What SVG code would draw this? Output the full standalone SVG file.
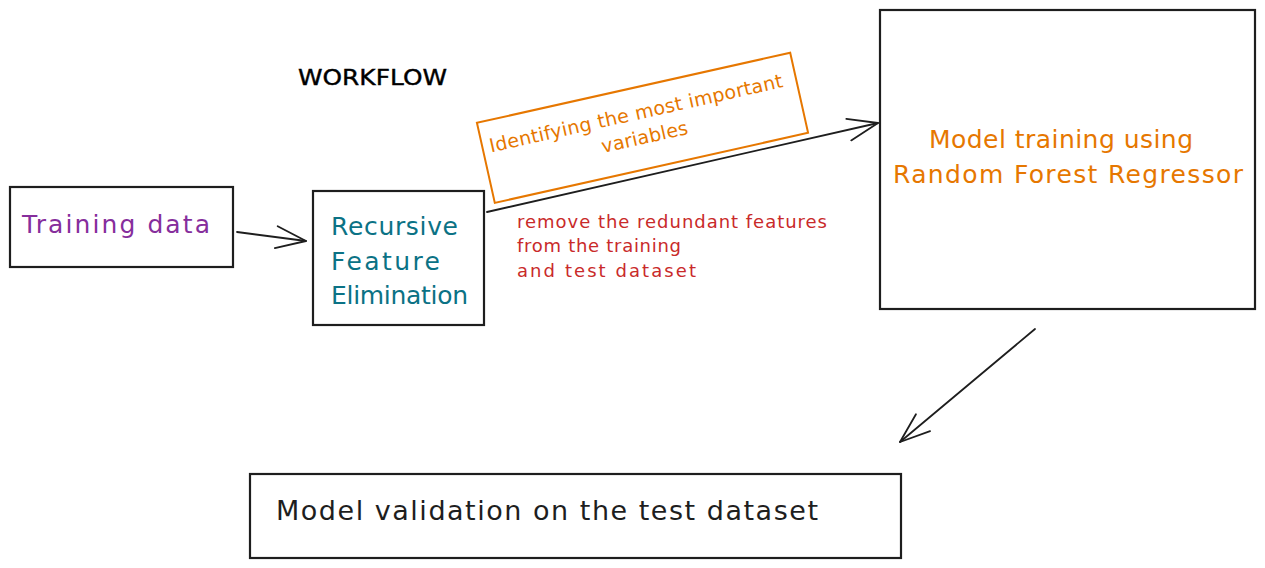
<svg xmlns="http://www.w3.org/2000/svg" width="1265" height="568" viewBox="0 0 1265 568">
<style>
.box{fill:#ffffff;stroke:#1e1e1e;stroke-width:2.2;}
.t{font-family:"DejaVu Sans","Liberation Sans",sans-serif;}
.conn{fill:none;stroke:#1e1e1e;stroke-width:1.8;stroke-linecap:round;}
</style>
<defs>
<marker id="ah" markerUnits="userSpaceOnUse" markerWidth="40" markerHeight="30" viewBox="0 0 40 30" refX="31" refY="11" orient="auto" overflow="visible">
<path d="M1,0 L31,11 L1,22" fill="none" stroke="#1e1e1e" stroke-width="1.8" stroke-linecap="round" stroke-linejoin="round"/>
</marker>
</defs>
<rect width="1265" height="568" fill="#ffffff"/>
<g id="title">
<text class="t" x="298" y="85" font-size="22" fill="#000000" stroke="#000000" stroke-width="0.4" textLength="149" lengthAdjust="spacingAndGlyphs">WORKFLOW</text>
</g>
<g id="connectors">
<path class="conn" d="M237,232 L306,241" marker-end="url(#ah)"/>
<path class="conn" d="M487,212 L878,123" marker-end="url(#ah)"/>
<path class="conn" d="M1035,329 L900,442" marker-end="url(#ah)"/>
</g>
<g id="training-data">
<rect class="box" x="10" y="187" width="223" height="80"/>
<text class="t" x="22" y="233" font-size="25" fill="#862e9c" textLength="188" lengthAdjust="spacing">Training data</text>
</g>
<g id="rfe">
<rect class="box" x="313" y="191" width="171" height="134"/>
<text class="t" font-size="25" fill="#0b7285">
<tspan x="331" y="235" textLength="127" lengthAdjust="spacing">Recursive</tspan>
<tspan x="331" y="270" textLength="109" lengthAdjust="spacing">Feature</tspan>
<tspan x="331" y="304" textLength="137" lengthAdjust="spacing">Elimination</tspan>
</text>
</g>
<g id="important-variables" transform="translate(642.5,127.8) rotate(-12.6)">
<rect x="-160.5" y="-41" width="321" height="82" fill="none" stroke="#e67700" stroke-width="2"/>
<text class="t" font-size="19" fill="#e67700" text-anchor="middle">
<tspan x="0" y="-9" textLength="300" lengthAdjust="spacing">Identifying the most important</tspan>
<tspan x="0" y="16" textLength="88" lengthAdjust="spacing">variables</tspan>
</text>
</g>
<g id="remove-label">
<text class="t" font-size="18" fill="#c92a2a">
<tspan x="517" y="228" textLength="310" lengthAdjust="spacing">remove the redundant features</tspan>
<tspan x="517" y="252" textLength="164" lengthAdjust="spacing">from the training</tspan>
<tspan x="517" y="277" textLength="179" lengthAdjust="spacing">and test dataset</tspan>
</text>
</g>
<g id="random-forest">
<rect class="box" x="880" y="10" width="375" height="299"/>
<text class="t" font-size="25" fill="#e67700">
<tspan x="929" y="148" textLength="264" lengthAdjust="spacing">Model training using</tspan>
<tspan x="893" y="183" textLength="350" lengthAdjust="spacing">Random Forest Regressor</tspan>
</text>
</g>
<g id="model-validation">
<rect class="box" x="250" y="474" width="651" height="84"/>
<text class="t" x="276" y="520" font-size="27" fill="#1e1e1e" textLength="542" lengthAdjust="spacing">Model validation on the test dataset</text>
</g>
</svg>
